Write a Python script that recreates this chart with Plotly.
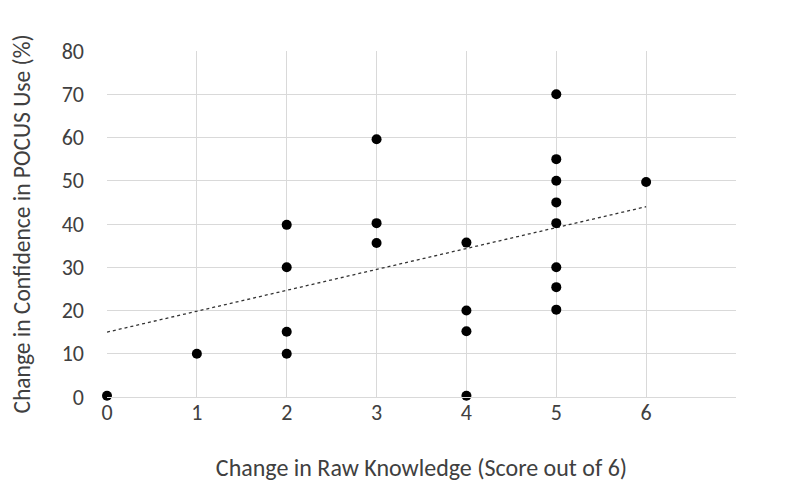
import plotly.graph_objects as go

# Data
knowledge_change = [0, 1, 2, 2, 2, 2, 3, 3, 3, 4, 4, 4, 4, 5, 5, 5, 5, 5, 5, 5, 5, 6]
confidence_change = [0.3, 10, 39.8, 30, 15.1, 10, 59.6, 40.2, 35.6, 35.7, 20, 15.2, 0.3,
                     70, 55, 50, 45, 40.2, 30, 25.4, 20.2, 49.7]
trend_x = [0, 6]
trend_y = [15.0, 44.0]
x_tick_vals = [0, 1, 2, 3, 4, 5, 6, 7]
x_tick_text = ["0", "1", "2", "3", "4", "5", "6", ""]
y_tick_vals = [0, 10, 20, 30, 40, 50, 60, 70, 80]

FONT = "Carlito, Lato, 'Open Sans', sans-serif"
TXT = "#404040"

fig = go.Figure()
fig.add_trace(go.Scatter(
    x=trend_x, y=trend_y, mode="lines",
    line=dict(color="#333333", width=1.3, dash="dot"),
    showlegend=False, hoverinfo="skip",
))
fig.add_trace(go.Scatter(
    x=knowledge_change, y=confidence_change, mode="markers",
    marker=dict(color="black", size=10),
    cliponaxis=False, showlegend=False,
))

fig.update_layout(
    width=792, height=490,
    margin=dict(l=99, r=64, t=43, b=101),
    paper_bgcolor="white", plot_bgcolor="white",
    font=dict(family=FONT, color=TXT),
)
fig.update_xaxes(
    range=[0, 7], tickvals=x_tick_vals, ticktext=x_tick_text,
    showgrid=True, gridcolor="#d9d9d9", gridwidth=1,
    zeroline=False, showline=True, linecolor="#d9d9d9",
    ticks="", ticklen=0, automargin=False, ticklabelstandoff=-4,
    tickfont=dict(size=22, family=FONT, color=TXT),
    title=dict(text="Change in Raw Knowledge (Score out of 6)",
               font=dict(size=24, family=FONT, color=TXT), standoff=33),
)
fig.update_yaxes(
    range=[0, 80], tickvals=y_tick_vals,
    showgrid=True, gridcolor="#d9d9d9", gridwidth=1,
    zeroline=False, showline=False,
    ticks="", ticklen=0, automargin=False, ticklabelstandoff=22,
    tickfont=dict(size=22, family=FONT, color=TXT),
    title=dict(text="Change in Confidence in POCUS Use (%)",
               font=dict(size=23.5, family=FONT, color=TXT), standoff=28),
)

fig.write_html("out.html")
